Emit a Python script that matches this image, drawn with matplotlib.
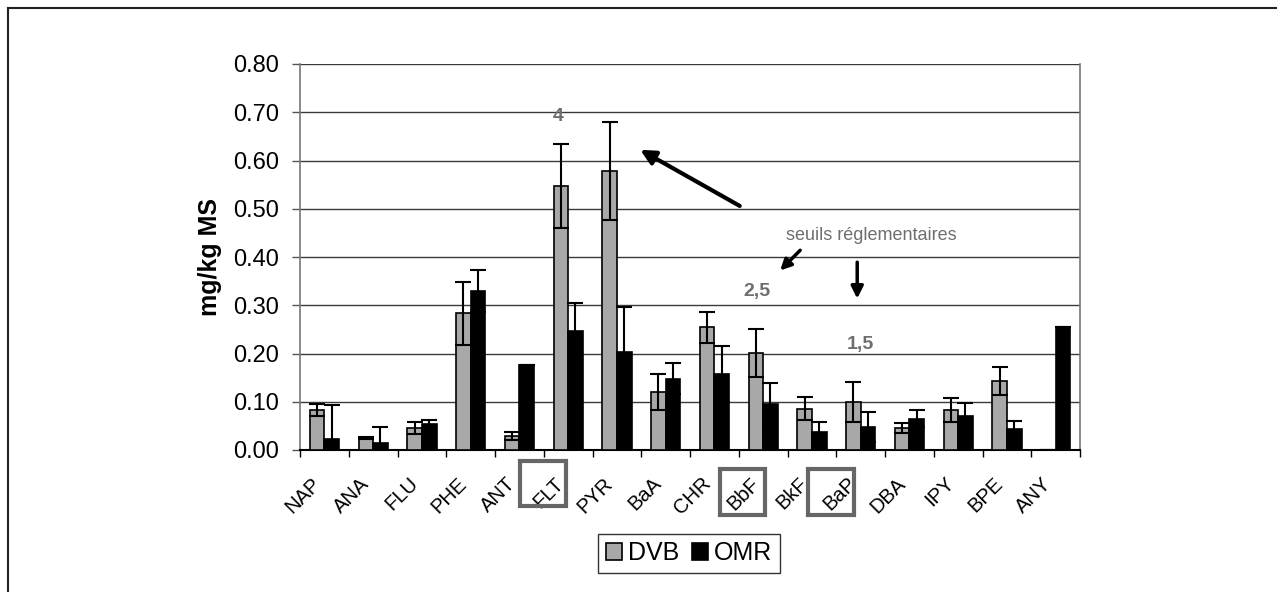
import matplotlib
matplotlib.use("Agg")
import matplotlib.pyplot as plt
from matplotlib.patches import Rectangle
from matplotlib.lines import Line2D
from matplotlib.transforms import ScaledTranslation
import numpy as np

plt.rcParams['font.family'] = ['Liberation Sans', 'DejaVu Sans']

# data (mg/kg MS)
categories = ["NAP", "ANA", "FLU", "PHE", "ANT", "FLT", "PYR", "BaA",
              "CHR", "BbF", "BkF", "BaP", "DBA", "IPY", "BPE", "ANY"]
dvb = [0.083, 0.025, 0.045, 0.283, 0.029, 0.547, 0.578, 0.120,
       0.254, 0.201, 0.086, 0.099, 0.046, 0.082, 0.142, 0.001]
dvb_err = [0.013, 0.002, 0.012, 0.066, 0.008, 0.087, 0.101, 0.037,
           0.032, 0.049, 0.023, 0.041, 0.010, 0.025, 0.029, 0.0]
omr = [0.022, 0.014, 0.054, 0.330, 0.176, 0.247, 0.204, 0.148,
       0.158, 0.095, 0.038, 0.048, 0.065, 0.070, 0.043, 0.254]
omr_err = [0.072, 0.033, 0.009, 0.044, 0.0, 0.058, 0.093, 0.032,
           0.058, 0.043, 0.019, 0.031, 0.017, 0.027, 0.018, 0.0]
yticks = [0.0, 0.1, 0.2, 0.3, 0.4, 0.5, 0.6, 0.7, 0.8]
boxed = ["FLT", "BbF", "BaP"]

W, H = 1277, 592
fig = plt.figure(figsize=(W / 100, H / 100), dpi=100)
fig.patch.set_facecolor("white")

def fx(px):
    return px / W

def fy(py):
    return 1 - py / H

ax = fig.add_axes([fx(300), fy(450), fx(1080) - fx(300), fy(64) - fy(450)])

x = np.arange(len(categories))
bw = 0.3
ax.bar(x - bw / 2, dvb, bw, color="#a8a8a8", edgecolor="black", linewidth=1.2,
       label="DVB", zorder=3)
ax.bar(x + bw / 2, omr, bw, color="black", edgecolor="black", linewidth=1.2,
       label="OMR", zorder=3)
ax.errorbar(x - bw / 2, dvb, yerr=dvb_err, fmt="none", ecolor="black",
            elinewidth=1.5, capsize=5.5, capthick=1.5, zorder=4)
ax.errorbar(x + bw / 2, omr, yerr=omr_err, fmt="none", ecolor="black",
            elinewidth=1.5, capsize=5.5, capthick=1.5, zorder=4)

ax.set_xlim(-0.5, len(categories) - 0.5)
ax.set_ylim(0, 0.8)
ax.set_yticks(yticks)
ax.set_yticklabels(["%.2f" % v for v in yticks], fontsize=17)
ax.yaxis.grid(True, color="#3a3a3a", linewidth=1.0, zorder=0)
ax.set_axisbelow(True)
ax.tick_params(axis="y", direction="out", length=6, width=1, color="#555555", pad=9)

# category boundary ticks, labels at centres
ax.set_xticks(np.arange(-0.5, len(categories)), minor=True)
ax.set_xticks(x)
ax.set_xticklabels(categories, fontsize=14.5, rotation=45, ha="right",
                   va="center", rotation_mode="anchor")
ax.tick_params(axis="x", which="major", length=0, pad=22)
ax.tick_params(axis="x", which="minor", direction="out", length=5, width=1, color="black")
for lab in ax.get_xticklabels():
    lab.set_transform(lab.get_transform() + ScaledTranslation(-0.07, 0, fig.dpi_scale_trans))

for side in ["left", "right"]:
    ax.spines[side].set_color("#777777")
    ax.spines[side].set_linewidth(1.2)
ax.spines["top"].set_visible(False)
ax.spines["bottom"].set_color("black")
ax.spines["bottom"].set_linewidth(1.5)

ax.set_ylabel("mg/kg MS", fontsize=18, fontweight="bold", labelpad=8)

# annotations
grey = "#6e6e6e"
ax.text(4.79, 0.692, "4", color=grey, fontsize=14, fontweight="bold", ha="center", va="center")
ax.text(8.87, 0.328, "2,5", color=grey, fontsize=14, fontweight="bold", ha="center", va="center")
ax.text(10.99, 0.218, "1,5", color=grey, fontsize=14, fontweight="bold", ha="center", va="center")
ax.text(11.21, 0.445, "seuils réglementaires", color=grey, fontsize=13, ha="center", va="center")
ax.annotate("", xy=(6.43, 0.625), xytext=(8.57, 0.503),
            arrowprops=dict(arrowstyle="-|>", lw=3, color="black", mutation_scale=22))
ax.annotate("", xy=(9.31, 0.368), xytext=(9.80, 0.418),
            arrowprops=dict(arrowstyle="-|>", lw=2.5, color="black", mutation_scale=16))
ax.annotate("", xy=(10.93, 0.308), xytext=(10.93, 0.395),
            arrowprops=dict(arrowstyle="-|>", lw=2.5, color="black", mutation_scale=18))

# grey boxes around regulated compounds
box_px = {"FLT": (520, 461, 566, 506), "BbF": (720, 469, 765, 515), "BaP": (808, 469, 854, 515)}
for name in boxed:
    x0, y0, x1, y1 = box_px[name]
    fig.add_artist(Rectangle((fx(x0), fy(y1)), fx(x1) - fx(x0), fy(y0) - fy(y1),
                             transform=fig.transFigure, fill=False,
                             edgecolor="#666666", linewidth=3))

leg = fig.legend(loc="center", bbox_to_anchor=(fx(689), fy(553)), ncol=2,
                 fontsize=18, frameon=True, fancybox=False, edgecolor="black",
                 handlelength=0.65, handleheight=0.65, handletextpad=0.25,
                 columnspacing=0.5, borderpad=0.3, borderaxespad=0)
leg.get_frame().set_linewidth(1.0)

# outer frame of the chart
fig.add_artist(Line2D([fx(8), fx(8)], [fy(8), 0], transform=fig.transFigure,
                      color="#222222", linewidth=1.5))
fig.add_artist(Line2D([fx(8), 1], [fy(8), fy(8)], transform=fig.transFigure,
                      color="#222222", linewidth=1.5))

fig.savefig("out.png", dpi=100)
